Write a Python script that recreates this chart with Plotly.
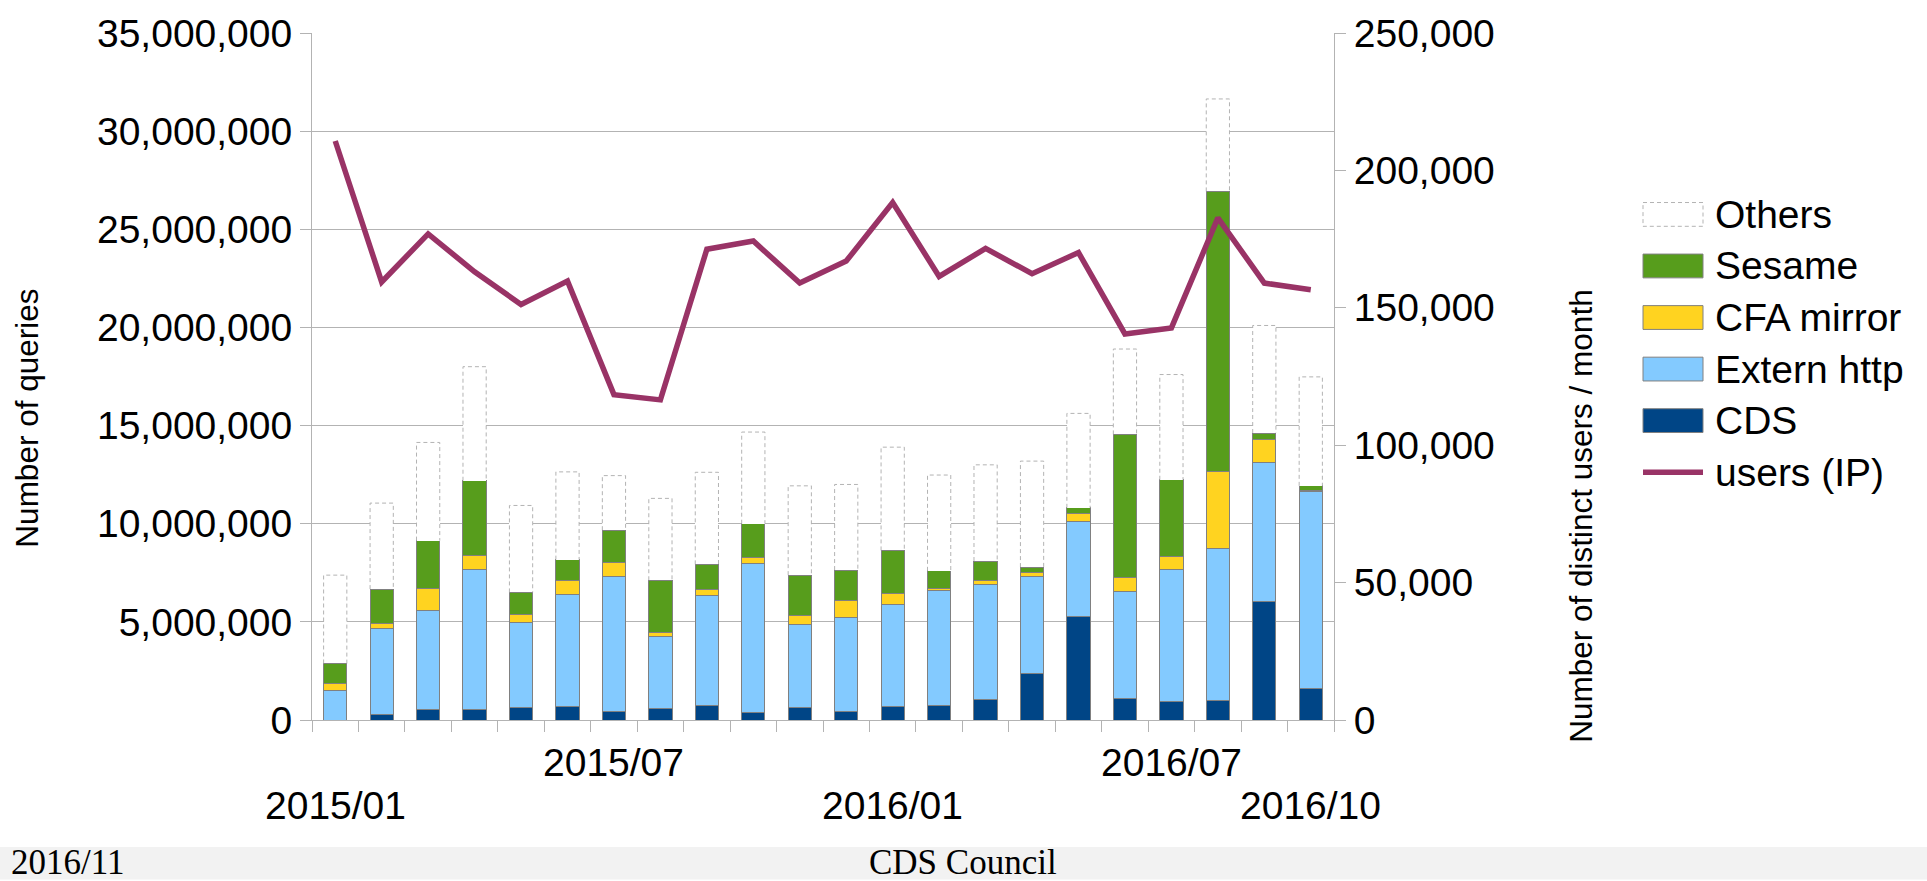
import plotly.graph_objects as go

# ---------------- data ----------------
months = ["2015/01", "2015/02", "2015/03", "2015/04", "2015/05", "2015/06",
          "2015/07", "2015/08", "2015/09", "2015/10", "2015/11", "2015/12",
          "2016/01", "2016/02", "2016/03", "2016/04", "2016/05", "2016/06",
          "2016/07", "2016/08", "2016/09", "2016/10"]

cds = [0.00, 0.30, 0.55, 0.55, 0.64, 0.71, 0.45, 0.60, 0.76, 0.40, 0.64,
       0.45, 0.69, 0.76, 1.02, 2.36, 5.29, 1.10, 0.93, 0.98, 6.02, 1.62]
extern_http = [1.52, 4.38, 5.05, 7.12, 4.31, 5.69, 6.86, 3.66, 5.60, 7.58, 4.24,
               4.79, 5.21, 5.84, 5.86, 4.93, 4.83, 5.45, 6.74, 7.76, 7.12, 10.02]
cfa_mirror = [0.36, 0.25, 1.11, 0.73, 0.43, 0.72, 0.71, 0.19, 0.28, 0.28, 0.43,
              0.86, 0.55, 0.11, 0.24, 0.21, 0.40, 0.71, 0.66, 3.93, 1.15, 0.05]
sesame = [1.00, 1.74, 2.43, 3.79, 1.12, 1.05, 1.65, 2.67, 1.29, 1.74, 2.07,
          1.54, 2.19, 0.89, 0.98, 0.29, 0.29, 7.29, 3.91, 14.26, 0.33, 0.24]
others = [4.50, 4.38, 5.00, 5.81, 4.43, 4.47, 2.78, 4.17, 4.69, 4.67, 4.55,
          4.36, 5.26, 4.88, 4.90, 5.40, 4.81, 4.35, 5.36, 4.71, 5.48, 5.55]
users_k = [210.7, 159.4, 176.9, 163.1, 151.2, 159.7, 118.4, 116.5, 171.3, 174.3,
           159.0, 167.0, 188.3, 161.4, 171.6, 162.4, 170.1, 140.5, 142.7, 182.7,
           159.0, 156.6]

shown_labels = ["2015/01", "2015/07", "2016/01", "2016/07", "2016/10"]
footer_left = "2016/11"
footer_center = "CDS Council"

# convert (millions / thousands) to raw counts
M = 1e6
cds_v = [v * M for v in cds]
ext_v = [v * M for v in extern_http]
cfa_v = [v * M for v in cfa_mirror]
ses_v = [v * M for v in sesame]
oth_v = [v * M for v in others]
users = [v * 1000 for v in users_k]

n = len(months)
xi = list(range(n))

# ---------------- styling / layout constants ----------------
W, H = 1927, 881
ML, MR, MT, MB = 312, 593, 27, 161
PW, PH = W - ML - MR, H - MT - MB


def px(xp):
    return (xp - ML) / PW


def py(yp):
    return (H - MB - yp) / PH


GRID = "#b3b3b3"
EDGE = "#808080"
C_CDS = "#004586"
C_EXT = "#83caff"
C_CFA = "#ffd320"
C_SES = "#579d1c"
C_USR = "#993366"
FONT = "Liberation Sans"
BAR_W = 0.5

fig = go.Figure()

for vals, name, col in [(cds_v, "CDS", C_CDS), (ext_v, "Extern http", C_EXT),
                        (cfa_v, "CFA mirror", C_CFA), (ses_v, "Sesame", C_SES)]:
    fig.add_trace(go.Bar(x=xi, y=vals, name=name, width=BAR_W,
                         marker=dict(color=col, line=dict(color=EDGE, width=1)),
                         showlegend=False))

fig.add_trace(go.Bar(x=xi, y=oth_v, name="Others", width=BAR_W,
                     marker=dict(color="white", line=dict(width=0)),
                     showlegend=False))

# dashed outline for "Others"
ox, oy = [], []
for i in range(n):
    base = cds_v[i] + ext_v[i] + cfa_v[i] + ses_v[i]
    top = base + oth_v[i]
    ox += [i - BAR_W / 2, i - BAR_W / 2, i + BAR_W / 2, i + BAR_W / 2, None]
    oy += [base, top, top, base, None]
fig.add_trace(go.Scatter(x=ox, y=oy, mode="lines", showlegend=False,
                         line=dict(color=GRID, width=1, dash="4px,3px"),
                         hoverinfo="skip"))

fig.add_trace(go.Scatter(x=xi, y=users, yaxis="y2", mode="lines",
                         name="users (IP)", showlegend=False,
                         line=dict(color=C_USR, width=5.5)))

annotations = []
shapes = []

# x labels (staggered)
for k, lab in enumerate(shown_labels):
    idx = months.index(lab)
    row_y = 806 if k % 2 == 0 else 763
    annotations.append(dict(x=idx, xref="x", y=py(row_y), yref="paper",
                            text=lab, showarrow=False, xanchor="center",
                            yanchor="middle",
                            font=dict(family=FONT, size=39, color="black")))

# axis titles
annotations.append(dict(x=px(27), y=py(416), xref="paper", yref="paper",
                        text="Number of queries", textangle=-90, showarrow=False,
                        xanchor="center", yanchor="middle",
                        font=dict(family=FONT, size=31.5, color="black")))
annotations.append(dict(x=px(1581), y=py(515), xref="paper", yref="paper",
                        text="Number of distinct users / month", textangle=-90,
                        showarrow=False, xanchor="center", yanchor="middle",
                        font=dict(family=FONT, size=31.5, color="black")))

# manual legend
legend_items = [("Others", "white", "dash"), ("Sesame", C_SES, "rect"),
                ("CFA mirror", C_CFA, "rect"), ("Extern http", C_EXT, "rect"),
                ("CDS", C_CDS, "rect"), ("users (IP)", C_USR, "line")]
ly0, lstep = 210, 52
for k, (name, col, kind) in enumerate(legend_items):
    cy = ly0 + k * lstep
    if kind == "line":
        shapes.append(dict(type="line", xref="paper", yref="paper",
                           x0=px(1643), x1=px(1703), y0=py(cy), y1=py(cy),
                           line=dict(color=col, width=5.5)))
    else:
        shapes.append(dict(type="rect", xref="paper", yref="paper",
                           x0=px(1643), x1=px(1703), y0=py(cy - 12), y1=py(cy + 12),
                           fillcolor=col,
                           line=dict(color=GRID if kind == "dash" else EDGE, width=1,
                                     dash="4px,3px" if kind == "dash" else "solid")))
    annotations.append(dict(x=px(1713), y=py(cy), xref="paper", yref="paper",
                            text=name, showarrow=False, xanchor="left",
                            yanchor="middle",
                            font=dict(family=FONT, size=39, color="black")))

# footer band
shapes.append(dict(type="rect", xref="paper", yref="paper", layer="below",
                   x0=px(0), x1=px(W), y0=py(848), y1=py(H),
                   fillcolor="#f2f2f2", line=dict(width=0)))
annotations.append(dict(x=px(10), y=py(884), xref="paper", yref="paper",
                        text=footer_left, showarrow=False, xanchor="left",
                        yanchor="bottom", borderpad=0,
                        font=dict(family="Liberation Serif", size=35, color="black")))
annotations.append(dict(x=px(963), y=py(884), xref="paper", yref="paper",
                        text=footer_center, showarrow=False, xanchor="center",
                        yanchor="bottom", borderpad=0,
                        font=dict(family="Liberation Serif", size=35, color="black")))

fig.update_layout(
    width=W, height=H, autosize=False,
    margin=dict(l=ML, r=MR, t=MT, b=MB, pad=0),
    paper_bgcolor="white", plot_bgcolor="white",
    barmode="stack", bargap=0.5, showlegend=False,
    font=dict(family=FONT, size=39, color="black"),
    xaxis=dict(range=[-0.5, n - 0.5], tickmode="array",
               tickvals=[i - 0.5 for i in range(n + 1)],
               ticktext=[""] * (n + 1), ticks="outside", ticklen=11,
               tickcolor=GRID, showline=True, linecolor=GRID, linewidth=1,
               showgrid=False, zeroline=False),
    yaxis=dict(range=[0, 35e6], dtick=5e6, tickformat=",d", ticks="outside",
               ticklen=11, tickcolor=GRID, showline=True, linecolor=GRID,
               gridcolor=GRID, gridwidth=1, zeroline=False,
               tickfont=dict(family=FONT, size=39, color="black")),
    yaxis2=dict(range=[0, 250000], dtick=50000, tickformat=",d",
                overlaying="y", side="right", ticks="outside", ticklen=11,
                tickcolor=GRID, showline=True, linecolor=GRID, showgrid=False,
                zeroline=False,
                tickfont=dict(family=FONT, size=39, color="black")),
    annotations=annotations, shapes=shapes,
)

fig.write_html(
    "out.html",
    config={"displayModeBar": False},
    post_script="document.body.style.margin='0';document.body.style.overflow='hidden';",
)
